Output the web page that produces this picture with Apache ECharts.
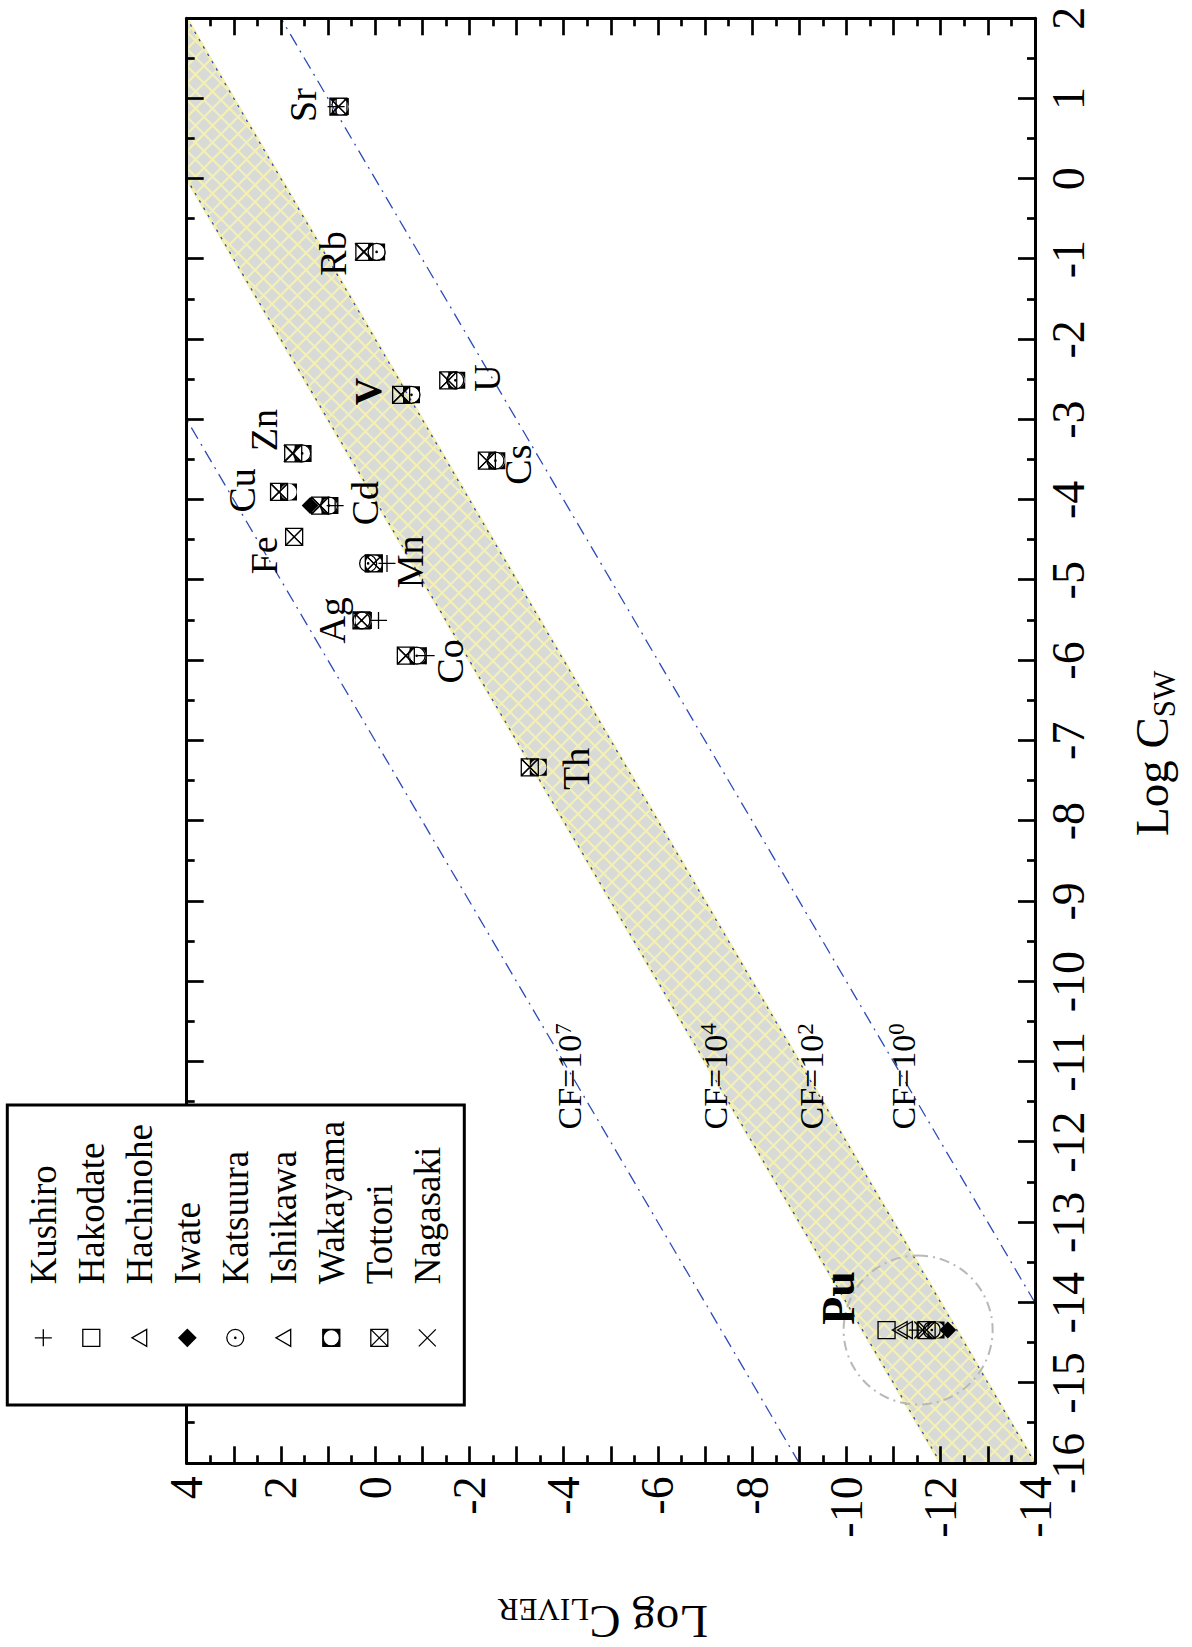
<!DOCTYPE html>
<html><head><meta charset="utf-8">
<script src="https://cdn.jsdelivr.net/npm/echarts@6/dist/echarts.min.js"></script>
<style>
html,body{margin:0;padding:0;background:#fff;width:1192px;height:1647px;overflow:hidden;}
#wrap{position:absolute;left:0;top:0;width:1647px;height:1192px;transform-origin:0 0;transform:translate(0px,1647px) rotate(-90deg);}
#chart{width:1647px;height:1192px;}
</style></head><body>
<div id="wrap"><div id="chart"></div></div>
<script>
const FONT = 'Liberation Serif';

// ---- data ----
const swRange = [-16, 2];
const liverRange = [-14, 4];
const elements = ['Sr','Rb','V','U','Zn','Cs','Cu','Cd','Fe','Mn','Ag','Co','Th','Pu'];
const logCsw   = [0.90,-0.91,-2.69,-2.51,-3.42,-3.51,-3.90,-4.07,-4.46,-4.79,-5.50,-5.94,-7.33,-14.34];
const stations = ['Kushiro','Hakodate','Hachinohe','Iwate','Katsuura','Ishikawa','Wakayama','Tottori','Nagasaki'];
// log C_LIVER per station, aligned with elements (null = not plotted)
const kushiro   = [0.83,null,null,null,null,null,null,0.85,null,-0.25,-0.07,-1.08,null,-11.50];
const hakodate  = [null,null,null,null,null,null,null,null,null,null,null,null,null,-10.85];
const hachinohe = [null,null,null,null,null,null,null,null,null,null,null,null,null,-11.13];
const iwate     = [null,null,null,null,null,null,null,1.38,null,null,null,null,null,-12.15];
const katsuura  = [null,-0.03,-0.77,-1.70,1.55,-2.55,null,0.98,null,0.15,0.29,-0.88,null,-11.81];
const ishikawa  = [null,null,null,null,null,null,null,null,null,null,null,null,null,-11.24];
const wakayama  = [0.74,-0.03,-0.77,-1.73,1.53,-2.58,1.84,0.96,null,0.03,0.25,-0.91,-3.46,-11.90];
const tottori   = [0.78,0.23,-0.55,-1.55,1.74,-2.37,2.04,1.17,1.72,0.03,0.29,-0.65,-3.28,-11.70];
const nagasaki  = [0.78,0.25,-0.55,-1.55,1.76,-2.37,2.04,1.17,1.72,0.03,0.29,-0.65,-3.28,-11.62];
const stationValues = [kushiro,hakodate,hachinohe,iwate,katsuura,ishikawa,wakayama,tottori,nagasaki];

// element annotations (text positions in data units)
const labelText  = ['Sr','Rb','V','U','Zn','Cu','Cd','Cs','Fe','Mn','Ag','Co','Th','Pu'];
const labelSw    = [0.92,-0.93,-2.65,-2.48,-3.13,-3.88,-4.04,-3.56,-4.69,-4.77,-5.50,-6.01,-7.35,-13.94];
const labelLiver = [1.53,0.89,0.15,-2.37,2.37,2.83,0.22,-3.04,2.37,-0.74,0.92,-1.59,-4.25,-9.83];
const boldLabels = ['Pu','V'];

// concentration-factor lines (endpoints, data units)
const cfExp       = ['7','4','2','0'];
const cf7Line     = [[-16,-9],[-3,4]];
const cf4Line     = [[-16,-12],[0,4]];
const cf2Line     = [[-16,-14],[2,4]];
const cf0Line     = [[-14,-14],[2,2]];
const cfLabelSw   = [-11.18,-11.18,-11.18,-11.18];
const cfLabelLiver= [-4.13,-7.21,-9.26,-11.20];
// shaded band between CF=10^4 and CF=10^2
const bandSw    = [-16,0,2,-16];
const bandLiver = [-12,4,4,-14];
// dashed circle around Pu
const puCircle = [-14.34,-11.52];

// ---- styles ----
const SYM = {
  plus:'path://M5,0L5,10M0,5L10,5',
  square:'path://M0,0L10,0L10,10L0,10Z',
  triangle:'path://M5,0L10,8.7L0,8.7Z',
  diamond:'path://M5,0L10,5L5,10L0,5Z',
  dotCircle:'path://M0,5A5,5,0,1,1,10,5A5,5,0,1,1,0,5Z M4.6,5A0.4,0.4,0,1,1,5.4,5A0.4,0.4,0,1,1,4.6,5Z',
  holed:'path://M0,0L10,0L10,10L0,10Z M5,0.2A4.8,4.8,0,0,0,5,9.8A4.8,4.8,0,0,0,5,0.2Z',
  xbox:'path://M0,0L10,0L10,10L0,10Z M0,0L10,10 M10,0L0,10',
  cross:'path://M0,0L10,10M10,0L0,10'
};
const stationSym = [SYM.plus,SYM.square,SYM.triangle,SYM.diamond,SYM.dotCircle,SYM.triangle,SYM.holed,SYM.xbox,SYM.cross];
const stationFilled = [false,false,false,true,false,false,true,false,false];

// hatch tile
const tile = document.createElement('canvas');
tile.width = 17; tile.height = 17;
(function(){
  const c = tile.getContext('2d');
  c.fillStyle = '#d8dad8'; c.fillRect(0,0,17,17);
  c.strokeStyle = '#f3f0b6'; c.lineWidth = 2.1;
  for (const o of [-17,0,17]) {
    c.beginPath(); c.moveTo(o-1,-1); c.lineTo(o+18,18); c.stroke();
    c.beginPath(); c.moveTo(o+18,-1); c.lineTo(o-1,18); c.stroke();
  }
})();
const hatch = {image: tile, repeat:'repeat', imageWidth:17, imageHeight:17};

const BLUE = '#2d4bb8';
const series = [];

series.push({
  type:'custom', name:'band', silent:true, z:1, clip:true,
  data:[[bandSw[0], bandLiver[0]]],
  encode:{x:0,y:1},
  renderItem:function(params, api){
    const pts = bandSw.map((s,i)=>api.coord([s, bandLiver[i]]));
    return {type:'polygon', shape:{points:pts}, style:{fill:hatch, stroke:'#f3efb0', lineWidth:3}};
  }
});

const cfLines = [cf7Line, cf4Line, cf2Line, cf0Line];
const cfDash = [[13,6,2,6],[2.5,6],[2.5,6],[13,6,2,6]];
cfLines.forEach((ln,i)=>{
  series.push({type:'line', name:'CF'+cfExp[i], data:ln, symbol:'none', silent:true, z:2,
    lineStyle:{color:BLUE, width:1.3, type:cfDash[i]}, emphasis:{disabled:true}, animation:false});
});

series.push({type:'scatter', name:'circle', data:[puCircle], symbol:'circle', symbolSize:149, silent:true, z:3,
  itemStyle:{color:'rgba(0,0,0,0)', borderColor:'#b8b8b8', borderWidth:2, borderType:[10,5,2,5], opacity:1}});

stations.forEach((st,k)=>{
  const vals = stationValues[k];
  const data = [];
  vals.forEach((v,i)=>{ if (v!==null) data.push([logCsw[i], v]); });
  series.push({type:'scatter', name:st, data:data, symbol:stationSym[k], symbolSize:17, symbolKeepAspect:true, z:5,
    itemStyle:{color: stationFilled[k] ? '#000' : 'rgba(0,0,0,0)', borderColor:'#000', borderWidth: stationFilled[k] ? 0 : 1.3, opacity:1},
    emphasis:{disabled:true}});
});

series.push({type:'scatter', name:'labels', silent:true, z:6, symbol:'circle', symbolSize:1,
  itemStyle:{color:'rgba(0,0,0,0)', opacity:1},
  data: labelText.map((t,i)=>({value:[labelSw[i], labelLiver[i]], name:t,
     label: t==='Pu' ? {fontWeight:'bold', fontSize:46} : (boldLabels.indexOf(t)>=0 ? {fontWeight:'bold'} : {})})),
  label:{show:true, position:'inside', formatter:'{b}', fontSize:38, color:'#000', opacity:1, fontFamily:FONT, textBorderWidth:0},
  emphasis:{disabled:true}
});

series.push({type:'scatter', name:'cflabels', silent:true, z:6, symbol:'circle', symbolSize:1,
  itemStyle:{color:'rgba(0,0,0,0)', opacity:1},
  data: cfExp.map((e,i)=>({value:[cfLabelSw[i], cfLabelLiver[i]], name:e})),
  label:{show:true, position:'inside', color:'#000', opacity:1, textBorderWidth:0,
    formatter:function(p){ return '{a|CF=10}{b|'+p.name+'}'; },
    rich:{a:{fontSize:34, lineHeight:36, fontFamily:FONT, color:'#000'},
          b:{fontSize:23, lineHeight:24, verticalAlign:'top', fontFamily:FONT, color:'#000'}}},
  emphasis:{disabled:true}
});

function axisBase(range, pos, showLabel){
  return {
    type:'value', min:range[0], max:range[1], interval:1, position:pos, z:8,
    axisLine:{show:true, onZero:false, lineStyle:{color:'#000', width:3}},
    axisTick:{show:true, inside:true, length:17, lineStyle:{color:'#000', width:2.7}},
    minorTick:{show:true, splitNumber:2, length:8, lineStyle:{color:'#000', width:2.7}},
    splitLine:{show:false}, minorSplitLine:{show:false},
    axisLabel:{show:showLabel, fontSize:46, color:'#000', fontFamily:FONT},
    axisPointer:{show:false}
  };
}

const xMain = axisBase(swRange,'bottom',true);
xMain.axisLabel.margin = 10;
xMain.name = '{m|Log C}{s|SW}';
xMain.nameLocation = 'middle';
xMain.nameGap = 89;
xMain.nameTextStyle = {padding:[0,25,0,0], rich:{
  m:{fontSize:47, lineHeight:56, fontFamily:FONT, color:'#000'},
  s:{fontSize:31, lineHeight:31, verticalAlign:'bottom', fontFamily:FONT, color:'#000'}}};
const xTop = axisBase(swRange,'top',false);

const yMain = axisBase(liverRange,'left',true);
yMain.axisLabel.margin = 13;
yMain.axisLabel.formatter = function(v){ return (v % 2 === 0) ? String(v) : ''; };
yMain.name = '{m|Log C}{s|LIVER}';
yMain.nameLocation = 'middle';
yMain.nameRotate = 90;
yMain.nameGap = 131;
yMain.nameTextStyle = {padding:[0,0,0,16], rich:{
  m:{fontSize:47, lineHeight:56, fontFamily:FONT, color:'#000'},
  s:{fontSize:31, lineHeight:31, verticalAlign:'bottom', fontFamily:FONT, color:'#000'}}};
const yRight = axisBase(liverRange,'right',false);

const chart = echarts.init(document.getElementById('chart'), null, {renderer:'svg', width:1647, height:1192});
chart.setOption({
  animation:false,
  backgroundColor:'#fff',
  textStyle:{fontFamily:FONT},
  grid:{left:183.7, right:18.3, top:186.7, bottom:157, containLabel:false, outerBoundsMode:'none'},
  xAxis:[xMain, xTop],
  yAxis:[yMain, yRight],
  legend:{
    data:stations, orient:'vertical', left:242, top:7.3, itemWidth:17, itemHeight:17, itemGap:0,
    padding:[12,16,13,58], backgroundColor:'#fff', borderColor:'#000', borderWidth:3, borderRadius:0,
    textStyle:{fontSize:37, lineHeight:48, color:'#000', fontFamily:FONT, padding:[0,0,0,40]},
    selectedMode:false, symbolKeepAspect:true, itemStyle:{borderWidth:1.3}, z:12
  },
  series:series
});
</script></body></html>
